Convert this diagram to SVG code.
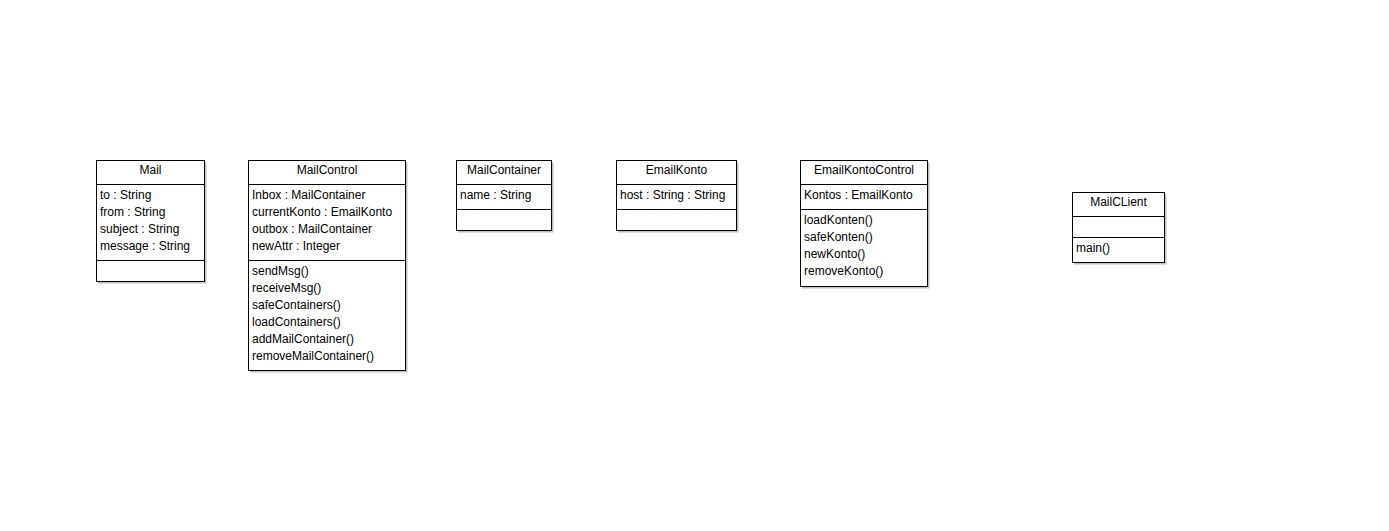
<svg xmlns="http://www.w3.org/2000/svg" width="1389" height="531" viewBox="0 0 1389 531">
<defs>
<style>
.box{fill:#fff;stroke:#000;stroke-width:1}
.sh{fill:#c0c0c0}
.ln{stroke:#000;stroke-width:1}
text{font-family:"Liberation Sans",Arial,sans-serif;font-size:12px;fill:#000}
.t{text-anchor:middle}
</style>
</defs>
<rect width="1389" height="531" fill="#fff"/>
<g id="Mail">
<rect class="sh" x="98.5" y="162.5" width="108" height="121"/>
<rect class="box" x="96.5" y="160.5" width="108" height="121"/>
<line class="ln" x1="96.5" y1="184.5" x2="204.5" y2="184.5"/>
<line class="ln" x1="96.5" y1="260.5" x2="204.5" y2="260.5"/>
<text class="t" x="150.5" y="174">Mail</text>
<text x="100" y="199">to : String</text>
<text x="100" y="216">from : String</text>
<text x="100" y="233">subject : String</text>
<text x="100" y="250">message : String</text>
</g>
<g id="MailControl">
<rect class="sh" x="250.5" y="162.5" width="157" height="210"/>
<rect class="box" x="248.5" y="160.5" width="157" height="210"/>
<line class="ln" x1="248.5" y1="184.5" x2="405.5" y2="184.5"/>
<line class="ln" x1="248.5" y1="260.5" x2="405.5" y2="260.5"/>
<text class="t" x="327" y="174">MailControl</text>
<text x="252" y="199">Inbox : MailContainer</text>
<text x="252" y="216">currentKonto : EmailKonto</text>
<text x="252" y="233">outbox : MailContainer</text>
<text x="252" y="250">newAttr : Integer</text>
<text x="252" y="275">sendMsg()</text>
<text x="252" y="292">receiveMsg()</text>
<text x="252" y="309">safeContainers()</text>
<text x="252" y="326">loadContainers()</text>
<text x="252" y="343">addMailContainer()</text>
<text x="252" y="360">removeMailContainer()</text>
</g>
<g id="MailContainer">
<rect class="sh" x="458.5" y="162.5" width="95" height="70"/>
<rect class="box" x="456.5" y="160.5" width="95" height="70"/>
<line class="ln" x1="456.5" y1="184.5" x2="551.5" y2="184.5"/>
<line class="ln" x1="456.5" y1="209.5" x2="551.5" y2="209.5"/>
<text class="t" x="504" y="174">MailContainer</text>
<text x="460" y="199">name : String</text>
</g>
<g id="EmailKonto">
<rect class="sh" x="618.5" y="162.5" width="120" height="70"/>
<rect class="box" x="616.5" y="160.5" width="120" height="70"/>
<line class="ln" x1="616.5" y1="184.5" x2="736.5" y2="184.5"/>
<line class="ln" x1="616.5" y1="209.5" x2="736.5" y2="209.5"/>
<text class="t" x="676.5" y="174">EmailKonto</text>
<text x="620" y="199">host : String : String</text>
</g>
<g id="EmailKontoControl">
<rect class="sh" x="802.5" y="162.5" width="127" height="126"/>
<rect class="box" x="800.5" y="160.5" width="127" height="126"/>
<line class="ln" x1="800.5" y1="184.5" x2="927.5" y2="184.5"/>
<line class="ln" x1="800.5" y1="209.5" x2="927.5" y2="209.5"/>
<text class="t" x="864" y="174">EmailKontoControl</text>
<text x="804" y="199">Kontos : EmailKonto</text>
<text x="804" y="224">loadKonten()</text>
<text x="804" y="241">safeKonten()</text>
<text x="804" y="258">newKonto()</text>
<text x="804" y="275">removeKonto()</text>
</g>
<g id="MailCLient">
<rect class="sh" x="1074.5" y="194.5" width="92" height="70"/>
<rect class="box" x="1072.5" y="192.5" width="92" height="70"/>
<line class="ln" x1="1072.5" y1="216.5" x2="1164.5" y2="216.5"/>
<line class="ln" x1="1072.5" y1="237.5" x2="1164.5" y2="237.5"/>
<text class="t" x="1118.5" y="206">MailCLient</text>
<text x="1076" y="252">main()</text>
</g>
<g id="connectors"/>
</svg>
